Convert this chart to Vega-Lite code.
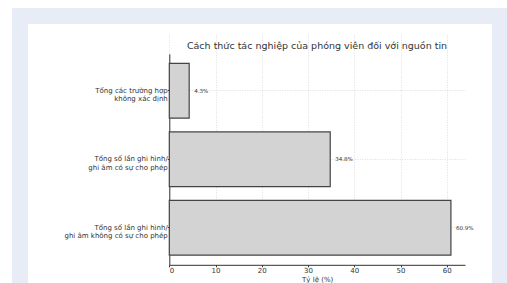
{
  "$schema": "https://vega.github.io/schema/vega-lite/v6.json",
  "width": 480,
  "height": 267,
  "autosize": {"type": "none"},
  "padding": {"left": 20, "top": 16, "right": 7, "bottom": 0},
  "background": "white",
  "config": {
    "view": {"fill": "white", "stroke": "#e8ecf6", "strokeWidth": 16, "strokeDash": [1014, 480], "strokeDashOffset": 267},
    "font": "DejaVu Sans"
  },
  "title": {
    "text": "Cách thức tác nghiệp của phóng viên đối với nguồn tin",
    "fontSize": 9.5,
    "fontWeight": "normal",
    "color": "#333333",
    "anchor": "middle",
    "baseline": "middle",
    "offset": 0,
    "dx": 57,
    "dy": 39
  },
  "data": {
    "values": [
      {"category": "Tổng các trường hợp|không xác định", "pct": 4.3, "label": "4.3%"},
      {"category": "Tổng số lần ghi hình/|ghi âm có sự cho phép", "pct": 34.8, "label": "34.8%"},
      {"category": "Tổng số lần ghi hình/|ghi âm không có sự cho phép", "pct": 60.9, "label": "60.9%"}
    ]
  },
  "encoding": {
    "y": {
      "field": "category",
      "type": "nominal",
      "sort": null,
      "scale": {"range": [37.8, 248.8], "paddingInner": 0.2, "paddingOuter": 0.14},
      "axis": {
        "title": null,
        "orient": "left",
        "offset": -149.3,
        "labelExpr": "split(datum.label, '|')",
        "labelFontSize": 7,
        "labelLineHeight": 8.5,
        "labelColor": "#333333",
        "labelPadding": 0,
        "labelLimit": 300,
        "tickSize": 2,
        "tickColor": "#333333",
        "domainColor": "#333333",
        "domainWidth": 1,
        "grid": true,
        "gridScale": "x",
        "gridColor": "#c8c8c8",
        "gridDash": [1, 1.5],
        "gridWidth": 0.6
      }
    },
    "x": {
      "field": "pct",
      "type": "quantitative",
      "scale": {"domain": [0, 63.945], "range": [149.3, 445], "nice": false, "zero": true},
      "axis": {
        "title": "Tỷ lệ (%)",
        "orient": "bottom",
        "offset": -18.2,
        "values": [0, 10, 20, 30, 40, 50, 60],
        "labelFontSize": 7,
        "labelColor": "#333333",
        "labelPadding": -0.8,
        "tickSize": 2,
        "tickColor": "#333333",
        "domainColor": "#333333",
        "domainWidth": 1,
        "titleFontSize": 7,
        "titleFontWeight": "normal",
        "titleColor": "#333333",
        "titlePadding": 2.5,
        "grid": true,
        "gridScale": "y",
        "gridColor": "#c8c8c8",
        "gridDash": [1, 1.5],
        "gridWidth": 0.6
      }
    }
  },
  "layer": [
    {
      "mark": {"type": "bar", "fill": "#d3d3d3", "stroke": "#444444", "strokeWidth": 1.2}
    },
    {
      "mark": {"type": "text", "align": "left", "baseline": "middle", "dx": 5, "fontSize": 5.5, "color": "#333333"},
      "encoding": {"text": {"field": "label"}}
    }
  ]
}
